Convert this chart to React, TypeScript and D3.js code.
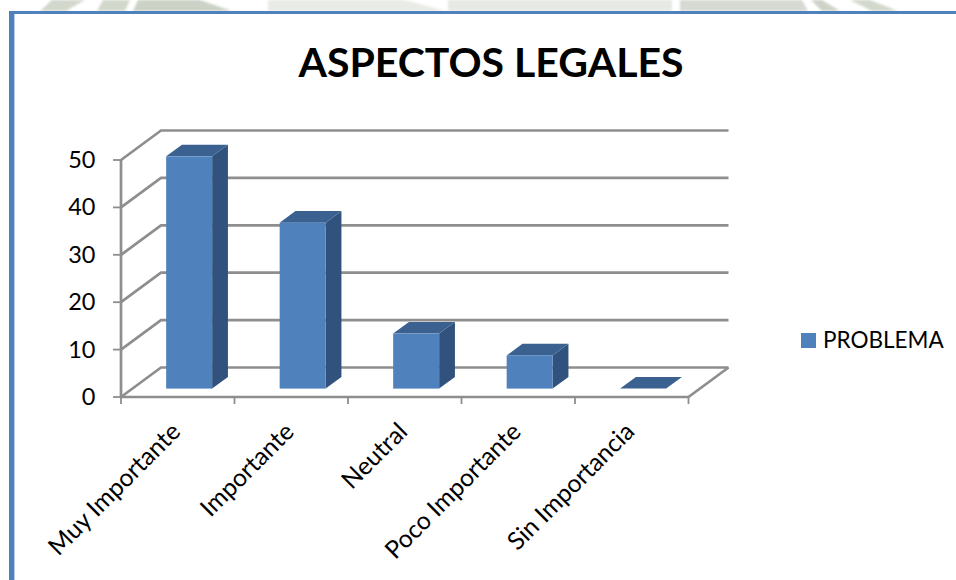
import React from "react";
import * as d3 from "d3";

// Survey results for the legal aspects question
const categories = ["Muy Importante", "Importante", "Neutral", "Poco Importante", "Sin Importancia"];
const problema = [49, 35, 11.6, 7, 0];
const yTicks = [0, 10, 20, 30, 40, 50];
const seriesName = "PROBLEMA";
const chartTitle = "ASPECTOS LEGALES";

const FONT = "Lato, Carlito, 'Open Sans', sans-serif";
const BLUE = "#4f81bd";
const BLUE_SIDE = "#31527c";
const BLUE_TOP = "#3a6190";
const GRID = "#8e8e8e";

// Oblique projection of the chart box: front floor edge plus a depth vector
const x = d3.scaleBand<string>().domain(categories).range([121, 688.5]).paddingInner(0).paddingOuter(0);
const y = d3.scaleLinear().domain([0, 50]).range([397, 160]);
const DEPTH_X = 40;
const DEPTH_Y = -29.5;
const BAR_NEAR = 0.285;
const BAR_FAR = 0.68;
const BAR_WIDTH_RATIO = 0.405;

const poly = d3.line<[number, number]>();

function Bar({ cat, value }: { cat: string; value: number }) {
  const band = x.bandwidth();
  const w = band * BAR_WIDTH_RATIO;
  const x0 = (x(cat) as number) + (band - w) / 2 + DEPTH_X * BAR_NEAR;
  const x1 = x0 + w;
  const yb = y(0) + DEPTH_Y * BAR_NEAR;
  const yt = y(value) + DEPTH_Y * BAR_NEAR;
  const dx = DEPTH_X * (BAR_FAR - BAR_NEAR);
  const dy = DEPTH_Y * (BAR_FAR - BAR_NEAR);
  const top: [number, number][] = [[x0, yt], [x1, yt], [x1 + dx, yt + dy], [x0 + dx, yt + dy]];
  const side: [number, number][] = [[x1, yt], [x1 + dx, yt + dy], [x1 + dx, yb + dy], [x1, yb]];
  return (
    <g>
      {value > 0 && <path d={poly(side) + "Z"} fill={BLUE_SIDE} />}
      <path d={poly(top) + "Z"} fill={BLUE_TOP} />
      {value > 0 && <rect x={x0} y={yt} width={w} height={yb - yt} fill={BLUE} />}
    </g>
  );
}

// Faded campus emblem showing above the chart frame
function Emblem() {
  const shapes: [string, string][] = [
    ["M40,11 L52,0 L85,0 L66,11Z", "#d3d8cc"],
    ["M97,11 L103,0 L130,0 L125,11Z", "#d3d8cc"],
    ["M133,11 L138,0 L200,0 L232,11Z", "#ccd2c6"],
    ["M268,11 L268,0 L404,0 L446,11Z", "#e9ebe6"],
    ["M448,11 L448,0 L672,0 L672,11Z", "#e7e9e4"],
    ["M680,11 L680,0 L802,0 L808,11Z", "#d6dad3"],
    ["M811,0 L822,0 L840,11 L822,11Z", "#cdd3c7"],
    ["M850,0 L870,0 L898,11 L872,11Z", "#d3d8cc"],
  ];
  return (
    <g style={{ filter: "blur(0.8px)" }}>
      {shapes.map(([d, fill], i) => <path key={i} d={d} fill={fill} />)}
    </g>
  );
}

export default function App() {
  const xEnd = x.range()[1];
  return (
    <svg width={956} height={580} viewBox="0 0 956 580"
      style={{ position: "absolute", left: 0, top: 0, background: "#fff", fontFamily: FONT }}>
      <Emblem />
      <rect x={9} y={11} width={947} height={3} fill={BLUE} />
      <rect x={9} y={11} width={5} height={569} fill={BLUE} />
      <rect x={14} y={14} width={1} height={566} fill="#b9cde4" />

      <text x={491} y={77} textAnchor="middle" fontSize={41} fontWeight={700} fill="#000">{chartTitle}</text>

      {/* back wall gridlines and the side wall diagonals */}
      <g stroke={GRID} strokeWidth={2.7} fill="none">
        {yTicks.map((t) => (
          <path key={t} d={poly([[121, y(t)], [121 + DEPTH_X, y(t) + DEPTH_Y], [xEnd + DEPTH_X, y(t) + DEPTH_Y]]) as string} />
        ))}
        <path d={poly([[xEnd, y(0)], [xEnd + DEPTH_X, y(0) + DEPTH_Y]]) as string} />
        <path d={poly([[121, y(50)], [121, y(0)], [xEnd, y(0)]]) as string} />
      </g>
      <g stroke={GRID} strokeWidth={1.8}>
        {yTicks.map((t) => <line key={t} x1={113} x2={121} y1={y(t)} y2={y(t)} />)}
        {[...categories.map((c) => x(c) as number), xEnd].map((px) => (
          <line key={px} x1={px} x2={px} y1={397} y2={404} />
        ))}
      </g>

      {categories.map((c, i) => <Bar key={c} cat={c} value={problema[i]} />)}

      <g fontSize={23.5} fill="#000">
        {yTicks.map((t) => (
          <text key={t} x={95.5} y={y(t) + 8} textAnchor="end">{t}</text>
        ))}
      </g>
      <g fontSize={24.6} fill="#000">
        {categories.map((c) => {
          const cx = (x(c) as number) + x.bandwidth() / 2;
          return (
            <text key={c} textAnchor="end" transform={`translate(${cx - 8},${421}) rotate(-45)`} dy="0.7em">{c}</text>
          );
        })}
      </g>

      <rect x={801} y={333} width={15} height={15} fill={BLUE} />
      <text x={823} y={348} fontSize={22.5} fill="#000">{seriesName}</text>
    </svg>
  );
}
